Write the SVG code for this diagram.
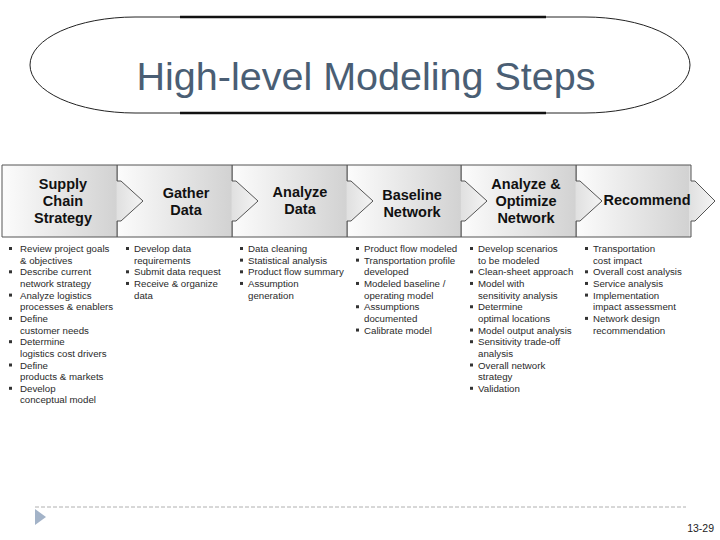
<svg xmlns="http://www.w3.org/2000/svg" width="720" height="540" viewBox="0 0 720 540">
<style>
.hdr{font-family:"Liberation Sans",Arial,sans-serif;font-weight:bold;font-size:14.5px;fill:#111;text-anchor:middle}
.bt{font-family:"Liberation Sans",Arial,sans-serif;font-size:9.7px;fill:#2a2a2a}
.bul{fill:#333}
.step{fill:url(#g);stroke:#555;stroke-width:1}
</style>
<defs>
<linearGradient id="g" x1="0" y1="0" x2="1" y2="0">
<stop offset="0" stop-color="#fcfcfc"/>
<stop offset="0.81" stop-color="#d2d2d2"/>
<stop offset="0.815" stop-color="#e0e0e0"/>
<stop offset="1" stop-color="#f4f4f4"/>
</linearGradient>
</defs>
<rect width="720" height="540" fill="#fff"/>
<g id="title">
<rect x="30" y="17" width="660" height="96" rx="105" ry="48" fill="#fff" stroke="#222" stroke-width="1"/>
<line x1="180" y1="17" x2="546" y2="17" stroke="#111" stroke-width="2.5"/>
<line x1="180" y1="113" x2="546" y2="113" stroke="#111" stroke-width="2.5"/>
<text x="366" y="90" font-family="Liberation Sans,Arial,sans-serif" font-size="39.5" fill="#4a5e74" text-anchor="middle">High-level Modeling Steps</text>
</g>
<g id="connectors"></g>
<g id="step6"><path class="step" d="M576,165 H691 V181 H695 L715,201 L695,221 H691 V237 H576 Z"/><text class="hdr" x="647" y="205">Recommend</text></g>
<g id="step5"><path class="step" d="M461,165 H576 V181 H580 L602,201 L580,221 H576 V237 H461 Z"/><text class="hdr" x="526" y="189">Analyze &amp;</text><text class="hdr" x="526" y="206">Optimize</text><text class="hdr" x="526" y="223">Network</text></g>
<g id="step4"><path class="step" d="M347,165 H461 V181 H465 L487,201 L465,221 H461 V237 H347 Z"/><text class="hdr" x="412" y="200">Baseline</text><text class="hdr" x="412" y="217">Network</text></g>
<g id="step3"><path class="step" d="M232,165 H347 V181 H351 L373,201 L351,221 H347 V237 H232 Z"/><text class="hdr" x="300" y="197">Analyze</text><text class="hdr" x="300" y="214">Data</text></g>
<g id="step2"><path class="step" d="M117,165 H232 V181 H236 L258,201 L236,221 H232 V237 H117 Z"/><text class="hdr" x="186" y="198">Gather</text><text class="hdr" x="186" y="215">Data</text></g>
<g id="step1"><path class="step" d="M2,165 H117 V181 H121 L143,201 L121,221 H117 V237 H2 Z"/><text class="hdr" x="63" y="189">Supply</text><text class="hdr" x="63" y="206">Chain</text><text class="hdr" x="63" y="223">Strategy</text></g>
<g id="list1">
<text class="bt" x="20" y="252">Review project goals<tspan x="20" dy="11.65">&amp; objectives</tspan><tspan x="20" dy="11.65">Describe current</tspan><tspan x="20" dy="11.65">network strategy</tspan><tspan x="20" dy="11.65">Analyze logistics</tspan><tspan x="20" dy="11.65">processes &amp; enablers</tspan><tspan x="20" dy="11.65">Define</tspan><tspan x="20" dy="11.65">customer needs</tspan><tspan x="20" dy="11.65">Determine</tspan><tspan x="20" dy="11.65">logistics cost drivers</tspan><tspan x="20" dy="11.65">Define</tspan><tspan x="20" dy="11.65">products &amp; markets</tspan><tspan x="20" dy="11.65">Develop</tspan><tspan x="20" dy="11.65">conceptual model</tspan></text>
<rect class="bul" x="9" y="247" width="3" height="3"/><rect class="bul" x="9" y="270.3" width="3" height="3"/><rect class="bul" x="9" y="293.6" width="3" height="3"/><rect class="bul" x="9" y="316.9" width="3" height="3"/><rect class="bul" x="9" y="340.2" width="3" height="3"/><rect class="bul" x="9" y="363.5" width="3" height="3"/><rect class="bul" x="9" y="386.8" width="3" height="3"/>
</g>
<g id="list2">
<text class="bt" x="134" y="252">Develop data<tspan x="134" dy="11.65">requirements</tspan><tspan x="134" dy="11.65">Submit data request</tspan><tspan x="134" dy="11.65">Receive &amp; organize</tspan><tspan x="134" dy="11.65">data</tspan></text>
<rect class="bul" x="126" y="247" width="3" height="3"/><rect class="bul" x="126" y="270.3" width="3" height="3"/><rect class="bul" x="126" y="281.95" width="3" height="3"/>
</g>
<g id="list3">
<text class="bt" x="248" y="252">Data cleaning<tspan x="248" dy="11.65">Statistical analysis</tspan><tspan x="248" dy="11.65">Product flow summary</tspan><tspan x="248" dy="11.65">Assumption</tspan><tspan x="248" dy="11.65">generation</tspan></text>
<rect class="bul" x="240" y="247" width="3" height="3"/><rect class="bul" x="240" y="258.65" width="3" height="3"/><rect class="bul" x="240" y="270.3" width="3" height="3"/><rect class="bul" x="240" y="281.95" width="3" height="3"/>
</g>
<g id="list4">
<text class="bt" x="364" y="252">Product flow modeled<tspan x="364" dy="11.65">Transportation profile</tspan><tspan x="364" dy="11.65">developed</tspan><tspan x="364" dy="11.65">Modeled baseline /</tspan><tspan x="364" dy="11.65">operating model</tspan><tspan x="364" dy="11.65">Assumptions</tspan><tspan x="364" dy="11.65">documented</tspan><tspan x="364" dy="11.65">Calibrate model</tspan></text>
<rect class="bul" x="356" y="247" width="3" height="3"/><rect class="bul" x="356" y="258.65" width="3" height="3"/><rect class="bul" x="356" y="281.95" width="3" height="3"/><rect class="bul" x="356" y="305.25" width="3" height="3"/><rect class="bul" x="356" y="328.55" width="3" height="3"/>
</g>
<g id="list5">
<text class="bt" x="478" y="252">Develop scenarios<tspan x="478" dy="11.65">to be modeled</tspan><tspan x="478" dy="11.65">Clean-sheet approach</tspan><tspan x="478" dy="11.65">Model with</tspan><tspan x="478" dy="11.65">sensitivity analysis</tspan><tspan x="478" dy="11.65">Determine</tspan><tspan x="478" dy="11.65">optimal locations</tspan><tspan x="478" dy="11.65">Model output analysis</tspan><tspan x="478" dy="11.65">Sensitivity trade-off</tspan><tspan x="478" dy="11.65">analysis</tspan><tspan x="478" dy="11.65">Overall network</tspan><tspan x="478" dy="11.65">strategy</tspan><tspan x="478" dy="11.65">Validation</tspan></text>
<rect class="bul" x="470" y="247" width="3" height="3"/><rect class="bul" x="470" y="270.3" width="3" height="3"/><rect class="bul" x="470" y="281.95" width="3" height="3"/><rect class="bul" x="470" y="305.25" width="3" height="3"/><rect class="bul" x="470" y="328.55" width="3" height="3"/><rect class="bul" x="470" y="340.2" width="3" height="3"/><rect class="bul" x="470" y="363.5" width="3" height="3"/><rect class="bul" x="470" y="386.8" width="3" height="3"/>
</g>
<g id="list6">
<text class="bt" x="593" y="252">Transportation<tspan x="593" dy="11.65">cost impact</tspan><tspan x="593" dy="11.65">Overall cost analysis</tspan><tspan x="593" dy="11.65">Service analysis</tspan><tspan x="593" dy="11.65">Implementation</tspan><tspan x="593" dy="11.65">impact assessment</tspan><tspan x="593" dy="11.65">Network design</tspan><tspan x="593" dy="11.65">recommendation</tspan></text>
<rect class="bul" x="585" y="247" width="3" height="3"/><rect class="bul" x="585" y="270.3" width="3" height="3"/><rect class="bul" x="585" y="281.95" width="3" height="3"/><rect class="bul" x="585" y="293.6" width="3" height="3"/><rect class="bul" x="585" y="316.9" width="3" height="3"/>
</g>
<g id="footer">
<line x1="35" y1="507" x2="686" y2="507" stroke="#b0b0b0" stroke-width="1" stroke-dasharray="4,2"/>
<polygon points="35,509 46,517 35,525" fill="#a3b3c8"/>
<text x="714" y="532" font-family="Liberation Sans,Arial,sans-serif" font-size="10.5" fill="#222" text-anchor="end">13-29</text>
</g>
</svg>
